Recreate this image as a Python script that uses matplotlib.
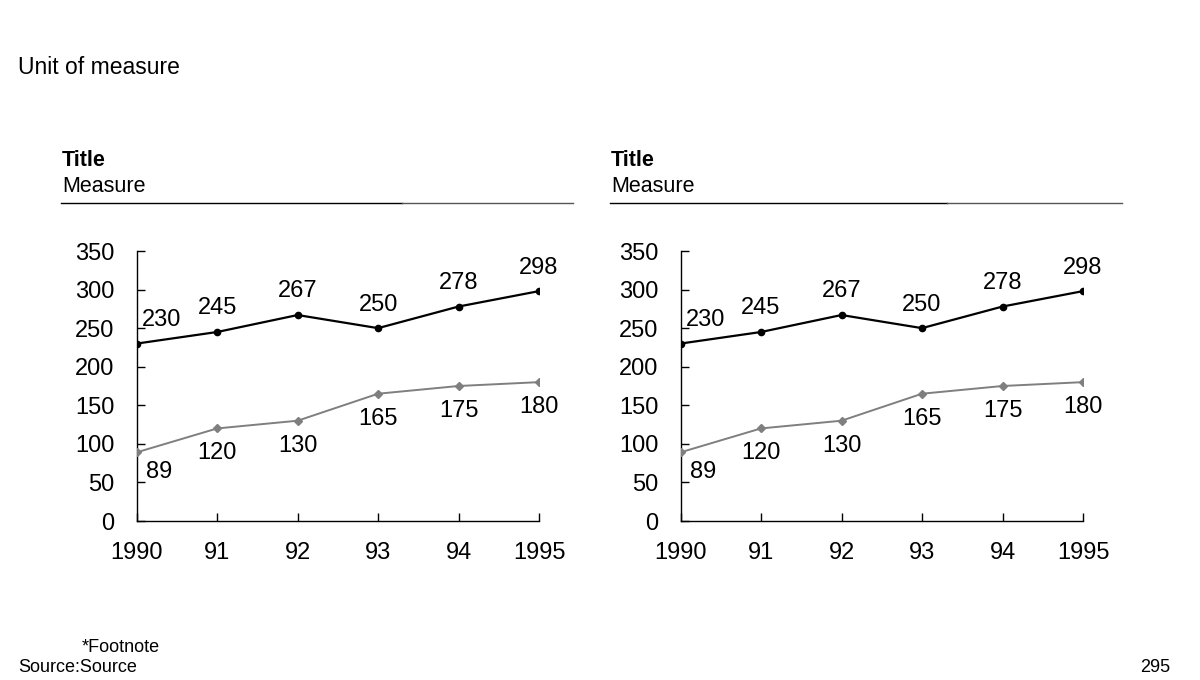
import matplotlib
matplotlib.use("Agg")
import matplotlib.pyplot as plt
from matplotlib.lines import Line2D

plt.rcParams['font.family'] = ['Liberation Sans', 'DejaVu Sans']

years = [1990, 1991, 1992, 1993, 1994, 1995]
year_labels = ["1990", "91", "92", "93", "94", "1995"]
series_top = [230, 245, 267, 250, 278, 298]
series_bottom = [89, 120, 130, 165, 175, 180]
y_ticks = [0, 50, 100, 150, 200, 250, 300, 350]

W, H = 1200, 680
fig = plt.figure(figsize=(12, 6.8), dpi=100)

def fx(px):
    return px / W

def fy(py):
    return 1 - py / H

panels = [
    dict(ax_left=136.7, ax_right=539.0, text_x=62, line_x0=61, line_split=402, line_x1=573),
    dict(ax_left=680.5, ax_right=1083.0, text_x=611, line_x0=610, line_split=947, line_x1=1122),
]

ax_top, ax_bottom = 251.0, 521.0
FS = 17

for p in panels:
    ax = fig.add_axes([fx(p['ax_left']), fy(ax_bottom),
                       fx(p['ax_right'] - p['ax_left']), (ax_bottom - ax_top) / H])
    ax.plot(years, series_top, color='black', lw=1.6, marker='o', ms=4.5, zorder=3)
    ax.plot(years, series_bottom, color='#7f7f7f', lw=1.4, marker='D', ms=4, zorder=3)
    ax.set_xlim(years[0], years[-1])
    ax.set_ylim(0, 350)
    ax.set_xticks(years)
    ax.set_xticklabels(year_labels)
    ax.set_yticks(y_ticks)
    for s in ['top', 'right']:
        ax.spines[s].set_visible(False)
    for s in ['left', 'bottom']:
        ax.spines[s].set_linewidth(1.0)
    ax.tick_params(direction='in', length=6, width=1.0, labelsize=FS, pad=15)
    ax.tick_params(axis='y', pad=16)
    for i, (x, v) in enumerate(zip(years, series_top)):
        dx = 18 if i == 0 else 0
        ax.annotate(str(v), (x, v), xytext=(dx, 17), textcoords='offset points',
                    ha='center', va='center', fontsize=FS, annotation_clip=False)
    for i, (x, v) in enumerate(zip(years, series_bottom)):
        dx = 16 if i == 0 else 0
        dy = -14.5 if i == 0 else -18
        ax.annotate(str(v), (x, v), xytext=(dx, dy), textcoords='offset points',
                    ha='center', va='center', fontsize=FS, annotation_clip=False)
    ax.patch.set_alpha(0)

    fig.text(fx(p['text_x']), fy(161), "Title", fontsize=15.5, fontweight='bold',
             ha='left', va='center')
    fig.text(fx(p['text_x']), fy(186), "Measure", fontsize=15.5, ha='left', va='center')
    fig.add_artist(Line2D([fx(p['line_x0']), fx(p['line_split'])], [fy(203), fy(203)],
                          color='black', lw=1.0))
    fig.add_artist(Line2D([fx(p['line_split']), fx(p['line_x1'])], [fy(203), fy(203)],
                          color='#555555', lw=1.0))

fig.text(fx(18), fy(68), "Unit of measure", fontsize=16.5, ha='left', va='center')
fig.text(fx(82), fy(647), "*Footnote", fontsize=13, ha='left', va='center')
fig.text(fx(18), fy(668), "Source:Source", fontsize=13, ha='left', va='center')
fig.text(fx(1170), fy(668), "295", fontsize=13, ha='right', va='center')

fig.savefig("out.png", dpi=100)
